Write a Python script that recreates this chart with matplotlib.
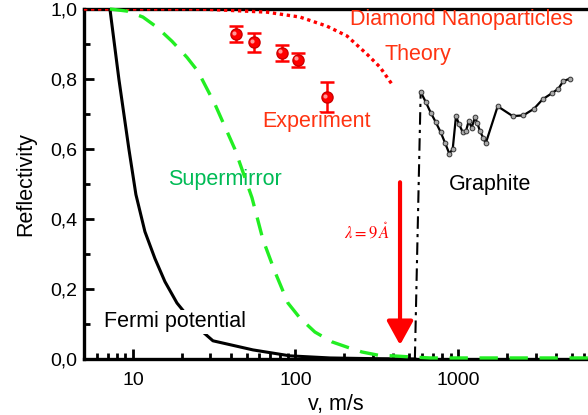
import numpy as np
import matplotlib
matplotlib.use("Agg")
import matplotlib.pyplot as plt
from matplotlib.ticker import FixedLocator, NullFormatter, LogLocator
from matplotlib.transforms import ScaledTranslation

plt.rcParams['font.family'] = ['Liberation Sans', 'DejaVu Sans']

# Fermi potential reflectivity (black solid)
fermi_v = [5.0, 7.22, 8.20, 9.45, 10.43, 11.85, 13.66, 15.74, 18.66, 24.07,
           31.07, 54.76, 92.5, 163.0, 300.0, 543.0]
fermi_r = [1.0, 1.0, 0.799, 0.599, 0.470, 0.364, 0.287, 0.221, 0.160, 0.097,
           0.052, 0.026, 0.009, 0.003, 0.001, 0.0]

# supermirror (green dashed)
mirror_v = [7.22, 9.19, 11.52, 14.05, 17.38, 21.49, 25.12, 31.96, 42.44,
            54.0, 63.1, 74.8, 89.9, 106.6, 131.8, 167.7, 207.5, 256.6, 321.9,
            398.1, 506.6, 672.4, 6300.0]
mirror_r = [1.0, 0.994, 0.977, 0.948, 0.908, 0.862, 0.822, 0.728, 0.599,
            0.461, 0.341, 0.249, 0.160, 0.117, 0.077, 0.049, 0.034, 0.020, 0.011,
            0.009, 0.006, 0.003, 0.003]

# diamond nanoparticles, theory (red dotted)
theory_v = [5.0, 25.8, 66.8, 106.6, 156.2, 207.5, 275.4, 331.1, 392.6]
theory_r = [1.0, 1.0, 0.991, 0.977, 0.951, 0.923, 0.871, 0.834, 0.785]

# diamond nanoparticles, experiment
exp_v = [43.1, 55.6, 82.6, 103.5, 156.0]
exp_r = [0.928, 0.905, 0.874, 0.854, 0.748]
exp_err = [0.022, 0.027, 0.023, 0.019, 0.043]

# graphite
graph_v = [589.5, 635.6, 679.2, 729.4, 782.8, 831.8, 884.0, 927.7, 971.9, 1018.6,
           1069, 1120, 1164, 1214, 1272, 1314, 1365, 1431, 1481, 1755,
           2171, 2522, 2936, 3320, 3772, 4142, 4446, 4891]
graph_r = [0.763, 0.733, 0.704, 0.677, 0.648, 0.618, 0.587, 0.599, 0.693, 0.670,
           0.648, 0.651, 0.680, 0.661, 0.690, 0.675, 0.651, 0.632, 0.616, 0.722,
           0.694, 0.696, 0.715, 0.742, 0.759, 0.772, 0.794, 0.801]
edge_v = [543.0, 589.5]
edge_r = [0.0, 0.763]

lambda_v = 440.0   # v for 9 A neutrons
arrow_r = [0.505, 0.04]

y_ticks = [0.0, 0.2, 0.4, 0.6, 0.8, 1.0]
y_labels = ['0,0', '0,2', '0,4', '0,6', '0,8', '1,0']
x_ticks = [10, 100, 1000]
x_labels = ['10', '100', '1000']

orange = '#ff3311'
green_line = '#22ee22'
green_text = '#00bb55'

fig = plt.figure(figsize=(5.88, 4.15), dpi=100)
ax = fig.add_axes([84 / 588, 56 / 415, 1 - 84 / 588, 350 / 415])
ax.set_xscale('log')
ax.set_xlim(5.0, 6310)
ax.set_ylim(0, 1.0)

ax.plot(fermi_v, fermi_r, color='black', lw=2.2, zorder=3)
ax.plot(theory_v, theory_r, color='red', lw=2.4, linestyle=(0, (1, 1.1)), zorder=3)
ax.plot(mirror_v, mirror_r, color=green_line, lw=2.4, dashes=(5.5, 3.5), zorder=6,
        clip_on=False)

ax.plot(edge_v, edge_r, color='black', lw=1.5, linestyle=(0, (6, 2.5, 1.5, 2.5)), zorder=4)
ax.plot(graph_v, graph_r, color='black', lw=1.6, marker='o', markersize=3.4,
        markerfacecolor='#aaaaaa', markeredgecolor='#333333', markeredgewidth=0.7, zorder=4)

ax.errorbar(exp_v, exp_r, yerr=exp_err, fmt='o', color='red', ecolor='red',
            markersize=8, markeredgecolor='#cc0000', elinewidth=1.8, capsize=5,
            capthick=1.8, zorder=5)
shine = ax.transData + ScaledTranslation(-1.2 / 72, 1.2 / 72, fig.dpi_scale_trans)
ax.plot(exp_v, exp_r, 'o', color='#ff9999', markersize=3, markeredgewidth=0,
        transform=shine, zorder=6)

ax.annotate('', xy=(lambda_v, arrow_r[1]), xytext=(lambda_v, arrow_r[0]),
            arrowprops=dict(arrowstyle='-|>,head_length=0.58,head_width=0.32',
                            mutation_scale=25, color='red', lw=3.0,
                            shrinkA=0, shrinkB=0), zorder=5)

fs = 15.5
ax.text(216, 0.971, 'Diamond Nanoparticles', color=orange, fontsize=fs, va='center')
ax.text(355, 0.871, 'Theory', color=orange, fontsize=fs, va='center')
ax.text(62.2, 0.679, 'Experiment', color=orange, fontsize=fs, va='center')
ax.text(16.4, 0.513, 'Supermirror', color=green_text, fontsize=fs, va='center')
ax.text(881, 0.499, 'Graphite', color='black', fontsize=fs, va='center')
ax.text(6.63, 0.106, 'Fermi potential', color='black', fontsize=fs, va='center',
        bbox=dict(facecolor='white', edgecolor='none', pad=1), zorder=4)
ax.text(275, 0.364, r'$\lambda = 9\,\mathring{A}$', color='red', fontsize=12,
        ha='center', va='center', math_fontfamily='stix')

ax.set_xlabel('v, m/s', fontsize=fs, labelpad=4)
ax.set_ylabel('Reflectivity', fontsize=fs, labelpad=10)

ax.xaxis.set_major_locator(FixedLocator(x_ticks))
ax.set_xticklabels(x_labels)
ax.xaxis.set_minor_locator(LogLocator(base=10, subs=np.arange(2, 10)))
ax.xaxis.set_minor_formatter(NullFormatter())
ax.yaxis.set_major_locator(FixedLocator(y_ticks))
ax.set_yticklabels(y_labels)
ax.yaxis.set_minor_locator(FixedLocator([0.1, 0.3, 0.5, 0.7, 0.9]))

ax.tick_params(which='both', direction='in', top=False, right=False,
               labelsize=14, width=2, pad=5)
ax.tick_params(axis='x', which='major', pad=9)
ax.tick_params(which='major', length=7)
ax.tick_params(which='minor', length=4.5)

for side in ['left', 'bottom', 'top']:
    ax.spines[side].set_linewidth(2.4)
ax.spines['right'].set_visible(False)

fig.savefig('out.png', dpi=100)
